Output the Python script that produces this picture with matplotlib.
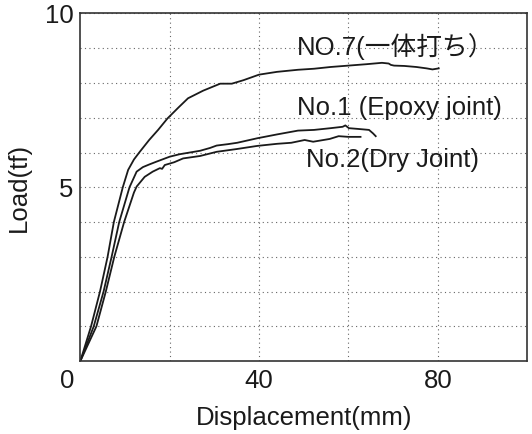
import matplotlib
matplotlib.use("Agg")
from matplotlib import pyplot as plt

plt.rcParams['font.family'] = ['Liberation Sans', 'Noto Sans CJK JP', 'DejaVu Sans']

# NO.7 (一体打ち)
x_no7 = [0, 2.4, 4.4, 6.1, 7.5, 9.5, 10.7, 12.0, 13.3, 15.4, 17.4, 19.5, 22, 24.1,
         27.5, 31.3, 33.9, 36.5, 40, 44, 48.7, 52.3, 56, 60, 64, 67.5, 69.0, 69.5,
         70.2, 72.5, 75.2, 77.5, 78.8, 80.2]
y_no7 = [0, 1, 2, 3, 4, 5, 5.5, 5.8, 6.02, 6.36, 6.65, 6.98, 7.3, 7.56,
         7.78, 7.98, 7.98, 8.08, 8.24, 8.32, 8.38, 8.41, 8.46, 8.5, 8.54, 8.58, 8.56, 8.52,
         8.50, 8.49, 8.46, 8.42, 8.39, 8.42]

# No.1 (Epoxy joint)
x_no1 = [0, 3.0, 5.2, 7.0, 8.7, 11.0, 12.6, 14.0, 15.5, 17.1, 20.0, 22.2, 24.5, 26.8,
         29, 30.5, 33, 35.1, 39.6, 44, 48.7, 52.3, 56, 58.7, 59.3, 60.1, 62, 64.6,
         65.5, 66.1]
y_no1 = [0, 1, 2, 3, 4, 5, 5.45, 5.58, 5.66, 5.74, 5.88, 5.95, 6.0, 6.05,
         6.13, 6.2, 6.24, 6.28, 6.41, 6.52, 6.63, 6.65, 6.7, 6.74, 6.78, 6.7, 6.68, 6.65,
         6.55, 6.47]

# No.2 (Dry Joint)
x_no2 = [0, 3.6, 5.7, 7.6, 9.8, 12.0, 12.6, 14.4, 16.2, 17.8, 18.3, 18.9, 21.0, 23.0,
         26.8, 30.5, 35, 39.6, 44, 47.2, 50.2, 52.1, 55.8, 57.8, 60, 62.7]
y_no2 = [0, 1, 2, 3, 4, 4.85, 5.02, 5.3, 5.45, 5.55, 5.53, 5.64, 5.72, 5.83,
         5.9, 6.02, 6.1, 6.19, 6.25, 6.28, 6.36, 6.31, 6.39, 6.47, 6.45, 6.45]

labels = ["NO.7(一体打ち）", "No.1 (Epoxy joint)", "No.2(Dry Joint)"]
label_pos = [(48.4, 9.05), (48.4, 7.28), (50.4, 5.78)]

fig = plt.figure(figsize=(5.32, 4.34), dpi=100)
ax = fig.add_axes([0.151, 0.168, 0.840, 0.801])

for xs, ys in [(x_no7, y_no7), (x_no1, y_no1), (x_no2, y_no2)]:
    ax.plot(xs, ys, color='#1a1a1a', lw=1.3)

for txt, (tx, ty) in zip(labels, label_pos):
    ax.text(tx, ty, txt, fontsize=18.5, ha='left', va='center', color='#1a1a1a')

ax.set_xlim(0, 100)
ax.set_ylim(0, 10)
ax.set_xticks([40, 80])
ax.set_yticks([5, 10])
ax.set_xticks([20, 60], minor=True)
ax.set_yticks([1, 2, 3, 4, 6, 7, 8, 9], minor=True)
ax.tick_params(which='both', length=0, labelsize=18.5, colors='#1a1a1a')
ax.tick_params(axis='x', pad=6)
ax.tick_params(axis='y', pad=5)
ax.grid(True, which='both', linestyle=(0, (1, 3)), color='#666666', lw=0.8)

# shared origin label
ax.annotate('0', xy=(0, 0), xytext=(-4, -6), textcoords='offset points',
            ha='right', va='top', fontsize=18.5, color='#1a1a1a')

for s in ax.spines.values():
    s.set_color('#333333')
    s.set_linewidth(1.2)

ax.set_xlabel("Displacement(mm)", fontsize=18.5, labelpad=9, color='#1a1a1a')
ax.set_ylabel("Load(tf)", fontsize=18.5, labelpad=10, color='#1a1a1a')

fig.savefig("out.png", dpi=100)
